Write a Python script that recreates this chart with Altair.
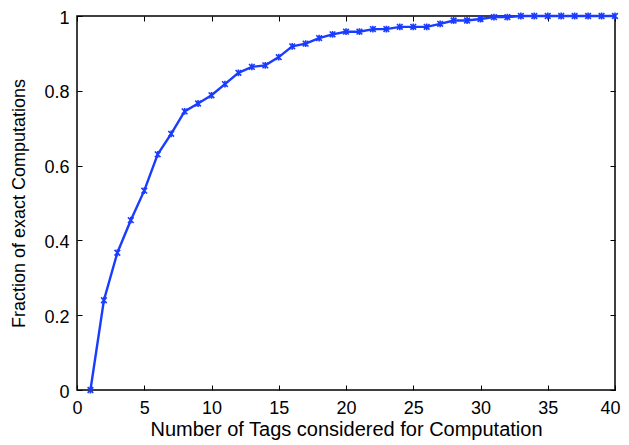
import altair as alt
import pandas as pd

tags = list(range(1, 41))
fraction = [0.0, 0.240, 0.367, 0.454, 0.533, 0.630, 0.685, 0.745, 0.766, 0.788,
            0.818, 0.848, 0.864, 0.868, 0.890, 0.919, 0.926, 0.941, 0.951, 0.958,
            0.958, 0.965, 0.965, 0.971, 0.971, 0.971, 0.979, 0.988, 0.988, 0.992,
            0.997, 0.997, 1.0, 1.0, 1.0, 1.0, 1.0, 1.0, 1.0, 1.0]

df = pd.DataFrame({"tags": tags, "fraction": fraction})

FONT = "Liberation Sans"
BLUE = "#1a3cff"
xscale = alt.Scale(domain=[0, 40], nice=False, zero=False)
yscale = alt.Scale(domain=[0, 1], nice=False)
xticks = [0, 5, 10, 15, 20, 25, 30, 35, 40]
yticks = [0, 0.2, 0.4, 0.6, 0.8, 1]

base = alt.Chart(df)

line = base.mark_line(color=BLUE, strokeWidth=2.4).encode(
    x=alt.X("tags:Q", scale=xscale,
            axis=alt.Axis(orient="bottom", values=xticks, offset=-5, tickSize=5,
                          domain=False, grid=False, labelPadding=9,
                          labelFlush=True, labelFlushOffset=5,
                          title="Number of Tags considered for Computation",
                          titleFontSize=20, titlePadding=2, format="d")),
    y=alt.Y("fraction:Q", scale=yscale,
            axis=alt.Axis(orient="left", values=yticks, offset=-5, tickSize=5,
                          domain=False, grid=False, labelPadding=8, labelFlush=False,
                          labelOffset=2,
                          title="Fraction of exact Computations",
                          titleFontSize=18, titlePadding=15, format="~g")),
)

points = base.mark_point(
    shape="M-1,-1L1,1M-1,1L1,-1M0,-1.2L0,1.2",
    filled=False, color=BLUE, strokeWidth=1.6, size=32, opacity=1,
).encode(
    x=alt.X("tags:Q", scale=xscale,
            axis=alt.Axis(orient="top", values=xticks, offset=-5, tickSize=5,
                          domain=False, grid=False, labels=False, title=None)),
    y=alt.Y("fraction:Q", scale=yscale,
            axis=alt.Axis(orient="right", values=yticks, offset=-5, tickSize=5,
                          domain=False, grid=False, labels=False, title=None)),
)

chart = alt.layer(line, points).resolve_axis(x="independent", y="independent").properties(
    width=538, height=374,
    autosize=alt.AutoSizeParams(type="none"),
    padding={"left": 69, "top": 8, "right": 6, "bottom": 55},
    background="white",
).configure_view(
    stroke="black", strokeWidth=1.5
).configure_axis(
    labelFont=FONT, titleFont=FONT, labelFontSize=18,
    labelColor="black", titleColor="black", tickColor="black", tickWidth=1,
    titleFontWeight="normal",
)

chart.save("out.html", embed_options={"renderer": "svg", "actions": False})
